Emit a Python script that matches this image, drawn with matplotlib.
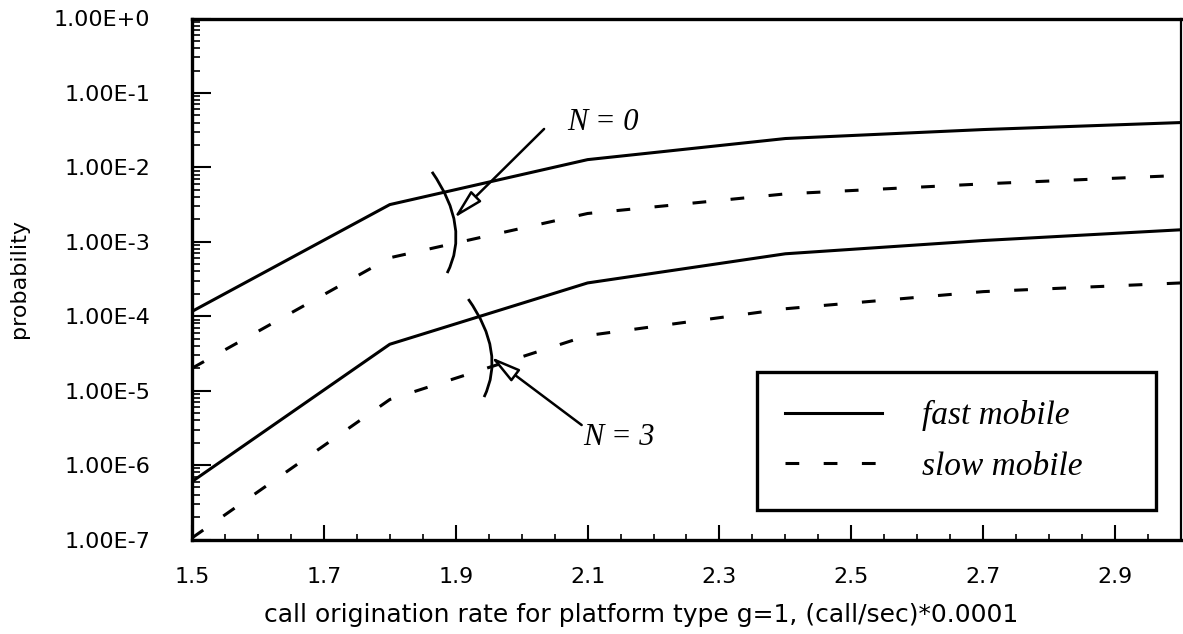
import numpy as np
import matplotlib
matplotlib.use("Agg")
import matplotlib.pyplot as plt
from matplotlib.ticker import LogLocator, MultipleLocator, FuncFormatter, NullFormatter
from matplotlib.path import Path
from matplotlib.patches import PathPatch

# call origination rate (x) and blocking probabilities
rate = [1.5, 1.8, 2.1, 2.4, 2.7, 3.0]
fast_n0 = [1.16e-4, 3.16e-3, 1.27e-2, 2.44e-2, 3.22e-2, 4.0e-2]
slow_n0 = [2.0e-5, 6.1e-4, 2.4e-3, 4.4e-3, 6.0e-3, 7.8e-3]
fast_n3 = [6.0e-7, 4.2e-5, 2.8e-4, 6.9e-4, 1.04e-3, 1.45e-3]
slow_n3 = [1.05e-7, 7.6e-6, 5.5e-5, 1.26e-4, 2.14e-4, 2.8e-4]
xticks = [1.5, 1.7, 1.9, 2.1, 2.3, 2.5, 2.7, 2.9]

plt.rcParams['font.family'] = 'DejaVu Sans'
serif_it = dict(family='Liberation Serif', style='italic')

fig = plt.figure(figsize=(11.83, 6.34), dpi=100)
ax = fig.add_axes([192/1183, 1-539.5/634, 989/1183, 521/634])

lw = 2.2
dash = (0, (4.5, 8.0))
ax.plot(rate, fast_n0, color='black', lw=lw, label='fast mobile')
ax.plot(rate, slow_n0, color='black', lw=lw, ls=dash, label='slow mobile')
ax.plot(rate, fast_n3, color='black', lw=lw)
ax.plot(rate, slow_n3, color='black', lw=lw, ls=dash)

ax.set_yscale('log')
ax.set_xlim(1.5, 3.0)
ax.set_ylim(1e-7, 1e0)

ax.set_xticks(xticks)
ax.xaxis.set_major_formatter(FuncFormatter(lambda v, p: f"{v:.1f}"))
ax.xaxis.set_minor_locator(MultipleLocator(0.05))
ax.yaxis.set_major_locator(LogLocator(base=10, numticks=20))
ax.yaxis.set_minor_locator(LogLocator(base=10, subs=np.arange(2, 10), numticks=20))
ax.yaxis.set_minor_formatter(NullFormatter())
ax.yaxis.set_major_formatter(FuncFormatter(lambda v, p: f"1.00E{int(round(np.log10(v))):+d}"))

ax.tick_params(axis='both', which='both', direction='in', top=False, right=False, color='black')
ax.tick_params(axis='y', which='major', length=14, width=1.5, pad=30, labelsize=16)
ax.tick_params(axis='y', which='minor', length=6, width=1.2)
ax.tick_params(axis='x', which='major', length=11, width=1.5, pad=20, labelsize=16)
ax.tick_params(axis='x', which='minor', length=4, width=1.2)

for side in ['left', 'bottom', 'top']:
    ax.spines[side].set_linewidth(2.4)
ax.spines['right'].set_linewidth(1.6)

ax.set_xlabel("call origination rate for platform type g=1, (call/sec)*0.0001", fontsize=18)
ax.xaxis.set_label_coords(0.4545, -0.122)
ax.set_ylabel("probability", fontsize=16, labelpad=18)

# brackets grouping each pair of curves
for p0, p1, p2 in [((1.864, 8.7e-3), (1.9225, 1.56e-3), (1.887, 3.8e-4)),
                   ((1.919, 1.70e-4), (1.976, 3.30e-5), (1.943, 8.2e-6))]:
    path = Path([p0, p1, p2], [Path.MOVETO, Path.CURVE3, Path.CURVE3])
    ax.add_patch(PathPatch(path, fc='none', ec='black', lw=2.0))

arrow = dict(arrowstyle='-|>,head_length=1.8,head_width=0.45', lw=1.8,
             fc='white', ec='black', shrinkA=0, shrinkB=0)
ax.annotate('', xy=(1.8976, 2.09e-3), xytext=(2.034, 3.28e-2), arrowprops=arrow)
ax.annotate('', xy=(1.9535, 2.83e-5), xytext=(2.091, 3.45e-6), arrowprops=arrow)
ax.text(2.123, 4.06e-2, "N = 0", fontsize=22, ha='center', va='center', **serif_it)
ax.text(2.147, 2.38e-6, "N = 3", fontsize=22, ha='center', va='center', **serif_it)

leg = ax.legend(loc='lower left', bbox_to_anchor=(0.571, 0.0566, 0.404, 0.265), mode='expand',
                borderaxespad=0, fancybox=False, framealpha=1, edgecolor='black',
                handlelength=2.9, handletextpad=1.2, borderpad=0.85, labelspacing=0.6,
                prop=dict(family='Liberation Serif', style='italic', size=24))
leg.get_frame().set_linewidth(2.4)

fig.savefig('out.png', dpi=100)
